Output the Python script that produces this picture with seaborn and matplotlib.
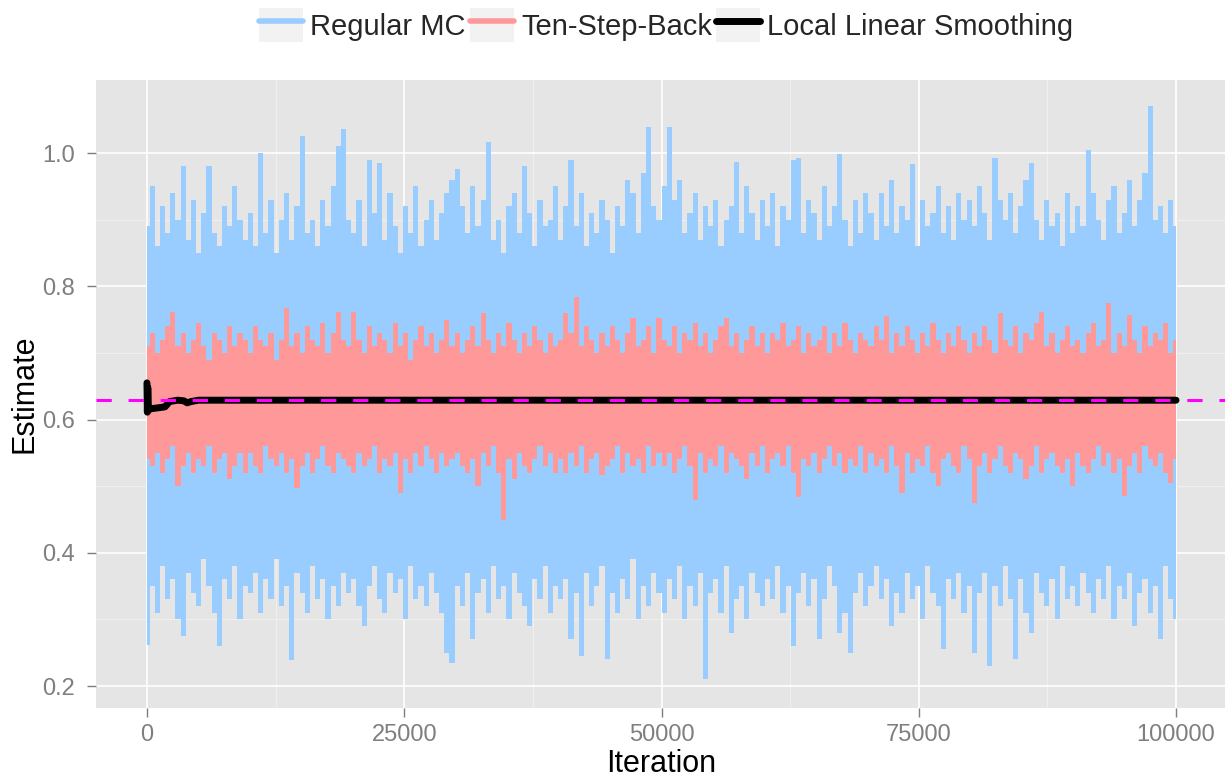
import numpy as np
import matplotlib
matplotlib.use("Agg")
import matplotlib.pyplot as plt
import seaborn as sns
from matplotlib.lines import Line2D
from matplotlib.patches import Rectangle
from matplotlib.legend_handler import HandlerTuple

# Regular MC estimate: per-bin highs and lows (500 iterations per bin)
mc_high = [
    0.89, 0.95, 0.86, 0.92, 0.88, 0.94, 0.90, 0.98, 0.87, 0.93, 0.85, 0.91, 0.98, 0.88, 0.86, 0.92, 0.89, 0.95, 0.90, 0.87,
    0.91, 0.86, 1.00, 0.88, 0.93, 0.85, 0.90, 0.94, 0.87, 0.92, 1.025, 0.88, 0.90, 0.86, 0.93, 0.89, 0.95, 1.01, 1.036, 0.90,
    0.88, 0.93, 0.86, 0.99, 0.91, 0.985, 0.87, 0.94, 0.89, 0.85, 0.92, 0.88, 0.95, 0.86, 0.90, 0.93, 0.87, 0.91, 0.94, 0.96,
    0.976, 0.92, 0.88, 0.95, 0.89, 0.93, 1.017, 0.87, 0.90, 0.85, 0.92, 0.94, 0.88, 0.98, 0.91, 0.86, 0.93, 0.89, 0.90, 0.95,
    0.87, 0.92, 0.99, 0.89, 0.94, 0.86, 0.91, 0.88, 0.93, 0.90, 0.85, 0.92, 0.89, 0.96, 0.94, 0.88, 0.97, 1.039, 0.92, 0.90,
    0.95, 1.039, 0.93, 0.96, 0.88, 0.91, 0.94, 0.87, 0.92, 0.89, 0.93, 0.86, 0.90, 0.92, 0.986, 0.88, 0.95, 0.91, 0.87, 0.93,
    0.89, 0.94, 0.86, 0.92, 0.90, 0.99, 0.993, 0.88, 0.93, 0.91, 0.87, 0.95, 0.89, 0.92, 0.998, 0.90, 0.86, 0.93, 0.88, 0.94,
    0.91, 0.87, 0.94, 0.89, 0.96, 0.88, 0.92, 0.90, 0.983, 0.86, 0.93, 0.89, 0.91, 0.95, 0.88, 0.92, 0.87, 0.94, 0.90, 0.93,
    0.89, 0.95, 0.91, 0.87, 0.992, 0.93, 0.90, 0.94, 0.88, 0.92, 0.96, 0.985, 0.90, 0.87, 0.93, 0.89, 0.91, 0.86, 0.94, 0.88,
    0.92, 0.89, 1.004, 0.94, 0.90, 0.87, 0.93, 0.95, 0.88, 0.91, 0.96, 0.89, 0.93, 0.97, 1.07, 0.90, 0.92, 0.88, 0.93, 0.89,
]
mc_low = [
    0.262, 0.35, 0.31, 0.38, 0.33, 0.36, 0.30, 0.275, 0.37, 0.34, 0.32, 0.39, 0.35, 0.31, 0.26, 0.36, 0.33, 0.38, 0.30, 0.35,
    0.34, 0.37, 0.31, 0.36, 0.33, 0.39, 0.32, 0.35, 0.239, 0.37, 0.34, 0.31, 0.38, 0.33, 0.36, 0.30, 0.35, 0.32, 0.37, 0.34,
    0.36, 0.32, 0.29, 0.35, 0.38, 0.33, 0.31, 0.37, 0.34, 0.36, 0.30, 0.38, 0.33, 0.35, 0.32, 0.37, 0.34, 0.31, 0.25, 0.234,
    0.35, 0.32, 0.37, 0.27, 0.34, 0.36, 0.31, 0.38, 0.33, 0.35, 0.30, 0.37, 0.34, 0.32, 0.29, 0.36, 0.33, 0.38, 0.31, 0.35,
    0.33, 0.36, 0.27, 0.34, 0.245, 0.37, 0.32, 0.35, 0.38, 0.24, 0.34, 0.31, 0.36, 0.33, 0.39, 0.30, 0.35, 0.32, 0.37, 0.34,
    0.31, 0.36, 0.33, 0.38, 0.30, 0.35, 0.32, 0.37, 0.21, 0.34, 0.36, 0.31, 0.38, 0.28, 0.33, 0.35, 0.30, 0.37, 0.34, 0.32,
    0.36, 0.33, 0.38, 0.31, 0.35, 0.26, 0.34, 0.37, 0.32, 0.36, 0.27, 0.33, 0.38, 0.35, 0.28, 0.31, 0.25, 0.34, 0.37, 0.32,
    0.35, 0.38, 0.33, 0.36, 0.29, 0.34, 0.31, 0.37, 0.33, 0.35, 0.30, 0.38, 0.34, 0.32, 0.255, 0.36, 0.33, 0.37, 0.31, 0.35,
    0.25, 0.34, 0.37, 0.23, 0.35, 0.32, 0.38, 0.33, 0.24, 0.36, 0.31, 0.28, 0.37, 0.34, 0.32, 0.36, 0.30, 0.38, 0.33, 0.35,
    0.32, 0.37, 0.34, 0.31, 0.36, 0.33, 0.38, 0.30, 0.35, 0.33, 0.37, 0.29, 0.34, 0.36, 0.31, 0.35, 0.27, 0.38, 0.33, 0.30,
]

# Ten-Step-Back estimate: per-bin highs and lows
tsb_high = [
    0.71, 0.73, 0.70, 0.72, 0.74, 0.761, 0.71, 0.73, 0.70, 0.72, 0.745, 0.71, 0.69, 0.73, 0.72, 0.70, 0.74, 0.71, 0.73, 0.72,
    0.70, 0.74, 0.72, 0.71, 0.73, 0.69, 0.72, 0.768, 0.71, 0.73, 0.70, 0.74, 0.72, 0.71, 0.745, 0.70, 0.73, 0.761, 0.72, 0.71,
    0.761, 0.72, 0.70, 0.74, 0.71, 0.73, 0.72, 0.70, 0.745, 0.71, 0.73, 0.69, 0.72, 0.74, 0.71, 0.73, 0.70, 0.72, 0.75, 0.71,
    0.73, 0.70, 0.72, 0.74, 0.71, 0.76, 0.72, 0.70, 0.73, 0.71, 0.745, 0.72, 0.70, 0.73, 0.71, 0.74, 0.72, 0.70, 0.73, 0.71,
    0.72, 0.76, 0.73, 0.784, 0.71, 0.74, 0.72, 0.70, 0.73, 0.71, 0.74, 0.72, 0.70, 0.73, 0.752, 0.71, 0.72, 0.74, 0.70, 0.752,
    0.72, 0.71, 0.74, 0.70, 0.73, 0.72, 0.745, 0.71, 0.73, 0.70, 0.72, 0.74, 0.752, 0.71, 0.73, 0.70, 0.72, 0.74, 0.71, 0.73,
    0.70, 0.73, 0.72, 0.745, 0.71, 0.72, 0.74, 0.70, 0.73, 0.71, 0.72, 0.74, 0.70, 0.73, 0.71, 0.745, 0.72, 0.70, 0.73, 0.72,
    0.71, 0.74, 0.72, 0.756, 0.70, 0.73, 0.71, 0.74, 0.72, 0.70, 0.73, 0.71, 0.745, 0.72, 0.70, 0.73, 0.71, 0.74, 0.72, 0.70,
    0.73, 0.71, 0.74, 0.72, 0.70, 0.76, 0.72, 0.71, 0.74, 0.70, 0.73, 0.72, 0.745, 0.762, 0.71, 0.73, 0.70, 0.72, 0.74, 0.71,
    0.72, 0.70, 0.73, 0.745, 0.71, 0.72, 0.775, 0.70, 0.73, 0.71, 0.757, 0.72, 0.70, 0.74, 0.71, 0.73, 0.72, 0.745, 0.70, 0.72,
]
tsb_low = [
    0.54, 0.53, 0.55, 0.52, 0.54, 0.56, 0.50, 0.53, 0.55, 0.52, 0.54, 0.53, 0.56, 0.52, 0.54, 0.55, 0.51, 0.53, 0.55, 0.52,
    0.55, 0.53, 0.52, 0.56, 0.54, 0.53, 0.55, 0.52, 0.54, 0.497, 0.53, 0.55, 0.52, 0.54, 0.56, 0.53, 0.52, 0.55, 0.54, 0.53,
    0.52, 0.55, 0.53, 0.54, 0.56, 0.52, 0.54, 0.53, 0.55, 0.49, 0.54, 0.52, 0.55, 0.53, 0.56, 0.54, 0.52, 0.55, 0.53, 0.54,
    0.55, 0.53, 0.52, 0.54, 0.50, 0.55, 0.53, 0.56, 0.52, 0.449, 0.54, 0.51, 0.55, 0.53, 0.52, 0.54, 0.56, 0.53, 0.55, 0.52,
    0.54, 0.52, 0.55, 0.53, 0.56, 0.52, 0.54, 0.55, 0.516, 0.53, 0.54, 0.56, 0.52, 0.55, 0.53, 0.54, 0.52, 0.56, 0.53, 0.55,
    0.53, 0.55, 0.52, 0.54, 0.56, 0.53, 0.479, 0.55, 0.52, 0.54, 0.53, 0.56, 0.52, 0.55, 0.54, 0.53, 0.51, 0.55, 0.53, 0.56,
    0.52, 0.54, 0.55, 0.53, 0.56, 0.52, 0.484, 0.54, 0.53, 0.55, 0.52, 0.54, 0.56, 0.53, 0.55, 0.52, 0.54, 0.53, 0.56, 0.52,
    0.55, 0.53, 0.54, 0.52, 0.56, 0.53, 0.49, 0.55, 0.52, 0.54, 0.53, 0.56, 0.52, 0.50, 0.54, 0.55, 0.53, 0.52, 0.56, 0.54,
    0.474, 0.53, 0.55, 0.52, 0.54, 0.56, 0.53, 0.52, 0.55, 0.54, 0.51, 0.53, 0.56, 0.52, 0.54, 0.55, 0.53, 0.52, 0.54, 0.50,
    0.55, 0.53, 0.52, 0.54, 0.56, 0.53, 0.55, 0.52, 0.54, 0.485, 0.53, 0.55, 0.52, 0.56, 0.54, 0.53, 0.55, 0.52, 0.505, 0.54,
]

# Local linear smoothing curve
smooth_iter = [1, 40, 80, 150, 300, 800, 1300, 1750, 2200, 3000, 3600, 3900, 4300, 5000, 100000]
smooth_est = [0.655, 0.611, 0.648, 0.614, 0.616, 0.617, 0.618, 0.619, 0.627, 0.629, 0.628, 0.625, 0.627, 0.629, 0.629]

true_value = 0.629

x_ticks = [0, 25000, 50000, 75000, 100000]
x_labels = ["0", "25000", "50000", "75000", "100000"]
y_ticks = [0.2, 0.4, 0.6, 0.8, 1.0]
y_labels = ["0.2", "0.4", "0.6", "0.8", "1.0"]

# bin centres along the iteration axis
mc_iter = np.linspace(0, 100000, len(mc_high))
tsb_iter = np.linspace(0, 100000, len(tsb_high))

sns.set_theme(style="darkgrid", rc={
    "axes.facecolor": "#E5E5E5",
    "grid.color": "white",
    "figure.facecolor": "white",
})
plt.rcParams["font.family"] = ["Liberation Sans", "DejaVu Sans"]

blue = "#99CCFF"
red = "#FF9999"

fig = plt.figure(figsize=(12.25, 7.81), dpi=100)
ax = fig.add_axes([95.5 / 1225, 73 / 781, 1132 / 1225, 628 / 781])

# each bin drawn as a column spanning its min..max
ax.fill_between(mc_iter, mc_low, mc_high, step="mid", color=blue, lw=0)
ax.fill_between(tsb_iter, tsb_low, tsb_high, step="mid", color=red, lw=0)
sns.lineplot(x=smooth_iter, y=smooth_est, color="black", lw=5, sort=False, estimator=None, ax=ax)
ax.axhline(true_value, color="#FF00FF", lw=2.2, dashes=(5, 5.5))

ax.set_xlim(-5000, 105000)
ax.set_ylim(0.167, 1.1096)
ax.set_xticks(x_ticks)
ax.set_xticklabels(x_labels)
ax.set_yticks(y_ticks)
ax.set_yticklabels(y_labels)
ax.set_xticks([12500, 37500, 62500, 87500], minor=True)
ax.set_yticks([0.3, 0.5, 0.7, 0.9], minor=True)
ax.grid(which="major", color="white", lw=1.2)
ax.grid(which="minor", color="#F2F2F2", lw=0.6)
ax.set_axisbelow(True)
for s in ax.spines.values():
    s.set_visible(False)
ax.tick_params(which="major", bottom=True, left=True, length=6.5, width=1,
               color="#7F7F7F", labelcolor="#7F7F7F", labelsize=17)
ax.tick_params(axis="x", which="major", pad=5)
ax.tick_params(axis="y", which="major", pad=8)
ax.tick_params(which="minor", length=0)

ax.set_xlabel("Iteration", fontsize=22, color="black", labelpad=2)
ax.set_ylabel("Estimate", fontsize=22, color="black", labelpad=2)

bg = Rectangle((0, 0), 1, 1, facecolor="#F2F2F2", edgecolor="none")
handles = [
    (bg, Line2D([], [], color=blue, lw=4)),
    (bg, Line2D([], [], color=red, lw=4)),
    (bg, Line2D([], [], color="black", lw=5)),
]
fig.legend(handles, ["Regular MC", "Ten-Step-Back", "Local Linear Smoothing"],
           handler_map={tuple: HandlerTuple(ndivide=1, pad=0)},
           loc="center", bbox_to_anchor=(0.544, 0.968), ncol=3, frameon=False,
           fontsize=21, handlelength=1.5, handleheight=1.4,
           handletextpad=0.25, columnspacing=0.15, borderpad=0)

fig.savefig("out.png", dpi=100)
